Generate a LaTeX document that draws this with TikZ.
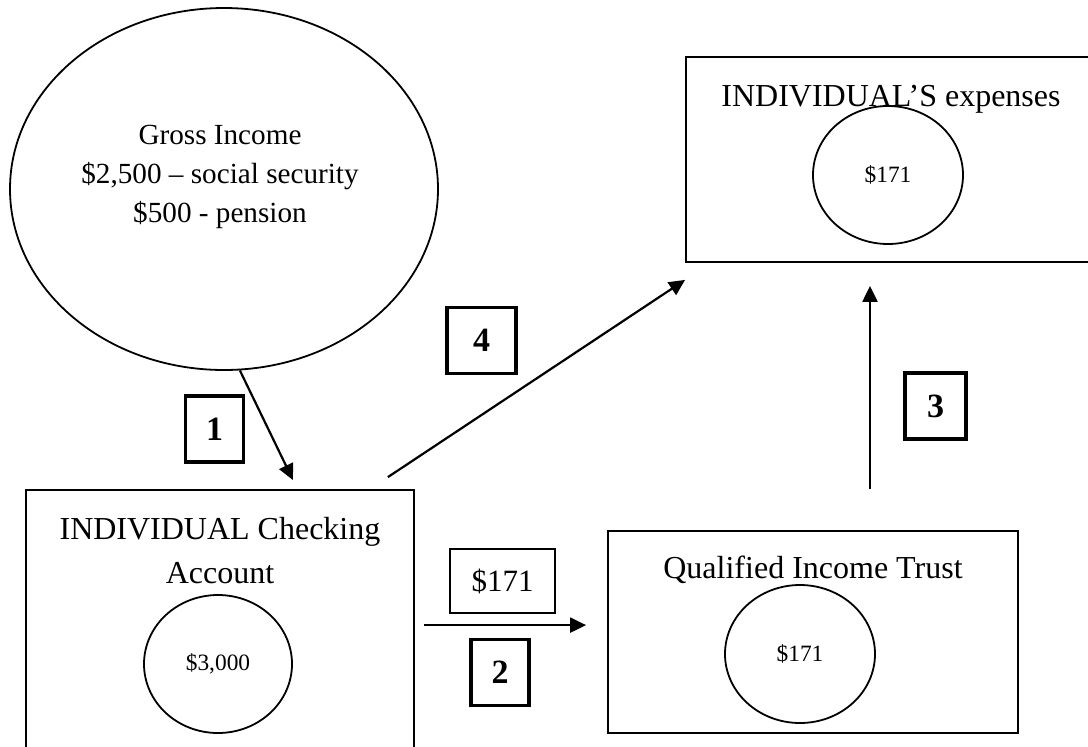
\documentclass[tikz,border=0pt]{standalone}
\usepackage{fontspec}
\setmainfont{Liberation Serif}
\usetikzlibrary{positioning,arrows.meta,shapes.geometric}

\begin{document}
\begin{tikzpicture}[x=0.5pt, y=-0.5pt,
    acct/.style={draw, line width=0.9pt, inner sep=0pt},
    pot/.style={draw, ellipse, line width=0.9pt, inner sep=0pt, minimum width=75pt, minimum height=69pt, font=\fontsize{11.7}{14}\selectfont},
    title/.style={align=center, font=\fontsize{16}{22}\selectfont},
    stepbox/.style={draw, line width=1.6pt, inner sep=0pt, minimum width=29pt, minimum height=33pt, font=\fontsize{17}{20}\selectfont\bfseries},
    flow/.style={-{Triangle[length=8pt,width=7.5pt]}, line width=1.1pt}]

  \useasboundingbox (0,0) rectangle (1088,746);
  \clip (0,0) rectangle (1088,746);

  % Income
  \node[draw, ellipse, line width=0.9pt, minimum width=214pt, minimum height=181pt] (income) at (224,189) {};
  \node[align=center, font=\fontsize{14.6}{19.5}\selectfont] (incomeText) at (220,177) {Gross Income\\\$2,500 – social security\\\$500 - pension};

  % Accounts with their balances
  \node[acct, minimum width=194pt, minimum height=165pt] (check) at (220,655) {};
  \node[title] (checkTitle) at (220,551) {INDIVIDUAL Checking\\Account};
  \node[pot, minimum width=74pt] (checkPot) at (218,664) {\$3,000};

  \node[acct, minimum width=205pt, minimum height=101pt] (trust) at (813,632) {};
  \node[title] (trustTitle) at (813,570) {Qualified Income Trust};
  \node[pot] (trustPot) at (800,654) {\$171};

  \node[acct, minimum width=205pt, minimum height=102.5pt] (expenses) at (891,159.5) {};
  \node[title] (expensesTitle) at (891,99) {INDIVIDUAL’S expenses};
  \node[pot] (expensesPot) at (888,175) {\$171};

  % Amount moved to the trust
  \node[acct, line width=0.6pt, minimum width=52.5pt, minimum height=32pt, font=\fontsize{15.5}{18}\selectfont] (amount) at (502.5,581) {\$171};

  % Step numbers
  \node[stepbox] (s1) at (214.5,429) {1};
  \node[stepbox] (s2) at (500,672.5) {2};
  \node[stepbox, minimum width=30.5pt] (s3) at (935.5,406) {3};
  \node[stepbox, minimum width=34.5pt] (s4) at (481.5,340.5) {4};

  % Flows
  \coordinate (out2) at ([shift={(9,136)}]check.north east);
  \draw[flow] (income.-85) -- ([shift={(73,-9)}]check.north);
  \draw[flow] (out2) -- ([xshift=-10.5pt]trust.west |- out2);
  \draw[flow] ([shift={(57,-41)}]trust.north) -- ([shift={(-21,23)}]expenses.south);
  \draw[flow] ([shift={(-27,-12)}]check.north east) -- ([shift={(0,17)}]expenses.south west);

\end{tikzpicture}
\end{document}
